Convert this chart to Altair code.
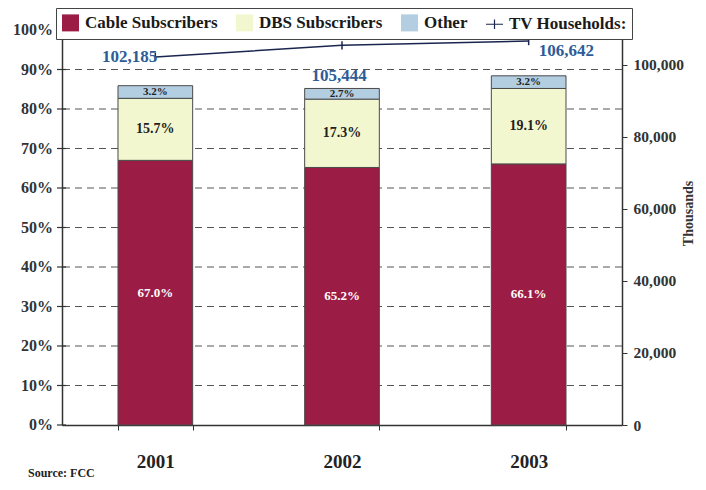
import altair as alt
import pandas as pd

# ---- data ----
years = ["2001", "2002", "2003"]
cable = [67.0, 65.2, 66.1]
dbs = [15.7, 17.3, 19.1]
other = [3.2, 2.7, 3.2]
households = [102185, 105444, 106642]
series_names = ["Cable Subscribers", "DBS Subscribers", "Other"]
legend_names = series_names + ["TV Households:"]
pct_ticks = list(range(0, 101, 10))
thousand_ticks = [0, 20000, 40000, 60000, 80000, 100000]
source_text = "Source: FCC"

# ---- styles ----
SERIF = "Liberation Serif"
CABLE = "#9b1c45"
DBS = "#f3f7cf"
OTHER = "#b3cde1"
LINE = "#1b2650"
BLUE = "#2d5c97"
DARK = "#333333"
# legend glyph for the line series: a thin bar with a small vertical cross tick
TV_GLYPH = "M-1,-0.07H-0.07V-0.55H0.07V-0.07H1V0.07H0.07V0.55H-0.07V0.07H-1Z"

rows = []
for i, yr in enumerate(years):
    base = 0.0
    for k, (name, vals) in enumerate(zip(series_names, [cable, dbs, other])):
        v = vals[i]
        rows.append({"year": yr, "series": name, "order": k, "value": v,
                     "start": base, "end": base + v, "mid": base + v / 2})
        base += v
bars_df = pd.DataFrame(rows)
line_df = pd.DataFrame({"year": years, "households": households})
ticks_df = pd.DataFrame({"tick": pct_ticks})

color_scale = alt.Scale(domain=legend_names, range=[CABLE, DBS, OTHER, LINE])
shape_scale = alt.Scale(domain=legend_names, range=["square", "square", "square", TV_GLYPH])

legend = alt.Legend(
    title=None, orient="none", direction="horizontal", legendX=-6, legendY=-22,
    labelFont=SERIF, labelFontWeight="bold", labelFontSize=17, labelColor="#1a1a1a",
    symbolSize=289, labelOffset=5, columnPadding=15, padding=5,
    strokeColor="#444444", fillColor="#ffffff",
    symbolStrokeColor="#333333", symbolStrokeWidth=1.1, symbolOpacity=1,
)


def x_enc():
    return alt.X(
        "year:N",
        scale=alt.Scale(paddingInner=0.6, paddingOuter=0.3),
        axis=alt.Axis(title=None, labelAngle=0, labelFont=SERIF, labelFontWeight="bold",
                      labelFontSize=19, labelColor="#222222", labelPadding=22,
                      tickBand="extent", tickSize=5, tickColor=DARK,
                      domainColor=DARK, domainWidth=1.5, grid=False),
    )


def left_y(field):
    # the axis keeps only its line; ticks, labels and grid come from the tick layers below
    return alt.Y(field, scale=alt.Scale(domain=[0, 100]),
                 axis=alt.Axis(title=None, labels=False, ticks=False, grid=False,
                               domainColor=DARK, domainWidth=1.5))


def right_y():
    return alt.Y("households:Q", scale=alt.Scale(domain=[0, 109700]),
                 axis=alt.Axis(orient="right", values=thousand_ticks, tickCount=6,
                               labelExpr="format(datum.value, ',')", labelOverlap=False,
                               title="Thousands", titleFont=SERIF, titleFontWeight="bold",
                               titleFontSize=14, titleColor=DARK, titleAngle=270,
                               titleAlign="center", titleBaseline="middle",
                               titleX=66, titleY=183,
                               labelFont=SERIF, labelFontWeight="bold", labelFontSize=15.5,
                               labelColor=DARK, labelPadding=6, tickSize=5, tickColor=DARK,
                               domainColor=DARK, domainWidth=1.5, grid=False))


grid = alt.Chart(ticks_df).transform_filter(alt.datum.tick > 0).mark_rule(
    color="#555555", strokeWidth=1, strokeDash=[7, 5]).encode(y=left_y("tick:Q"))

tick_marks = alt.Chart(ticks_df).mark_rule(color=DARK, strokeWidth=1.2).encode(
    x=alt.value(-5), x2=alt.value(4), y=left_y("tick:Q"))

tick_labels = alt.Chart(ticks_df).transform_calculate(
    label="datum.tick + '%'"
).mark_text(font=SERIF, fontWeight="bold", fontSize=16, color=DARK,
            align="right", baseline="middle").encode(
    x=alt.value(-9), y=left_y("tick:Q"), text="label:N")

bars = alt.Chart(bars_df).mark_bar(stroke="#4a4a4a", strokeWidth=1).encode(
    x=x_enc(),
    y=left_y("start:Q"),
    y2="end:Q",
    color=alt.Color("series:N", scale=color_scale, legend=legend),
)

# an empty point layer that only lends its shape scale to the shared legend
legend_shapes = alt.Chart(bars_df).transform_filter("false").mark_point(
    filled=True, stroke="#333333", strokeWidth=1.1).encode(
    x=x_enc(), y=left_y("mid:Q"),
    color=alt.Color("series:N", scale=color_scale, legend=legend),
    shape=alt.Shape("series:N", scale=shape_scale, legend=legend),
)


def seg_text(name, color, size):
    return alt.Chart(bars_df).transform_filter(
        alt.datum.series == name
    ).transform_calculate(
        label="format(datum.value, '.1f') + '%'"
    ).mark_text(font=SERIF, fontWeight="bold", fontSize=size, color=color,
                baseline="middle").encode(x=x_enc(), y=left_y("mid:Q"), text="label:N")


left = alt.layer(
    grid,
    bars,
    legend_shapes,
    tick_marks,
    tick_labels,
    seg_text("Cable Subscribers", "#ffffff", 13),
    seg_text("DBS Subscribers", "#222222", 14),
    seg_text("Other", "#222222", 11),
)

line = alt.Chart(line_df).mark_line(color=LINE, strokeWidth=1.5).encode(x=x_enc(), y=right_y())
pts = alt.Chart(line_df).mark_point(shape="M0,-1V1", stroke=LINE, strokeWidth=1.5,
                                    size=70, filled=False, opacity=1).encode(
    x=x_enc(), y=right_y())


def hh_label(yr, align, dx, dy):
    return alt.Chart(line_df).transform_filter(alt.datum.year == yr).mark_text(
        font=SERIF, fontWeight="bold", fontSize=17, color=BLUE, align=align,
        baseline="middle", dx=dx, dy=dy).encode(
        x=x_enc(), y=right_y(),
        text=alt.Text("households:Q", format=","))


right = alt.layer(
    line, pts,
    hh_label("2001", "right", 2, 0),
    hh_label("2002", "center", -3, 31),
    hh_label("2003", "left", 10, 10),
)

chart = alt.layer(left, right).resolve_scale(y="independent").properties(
    width=560, height=395,
    background="#ffffff",
    autosize=alt.AutoSizeParams(type="none"),
    padding={"left": 54, "top": 22, "right": 76, "bottom": 56},
    title=alt.TitleParams(source_text, orient="bottom", anchor="start", font=SERIF,
                          fontWeight="bold", fontSize=12, color="#222222", dx=15,
                          offset=-3),
).configure_view(stroke=None)

chart.save("out.html", embed_options={"renderer": "svg", "actions": False})
